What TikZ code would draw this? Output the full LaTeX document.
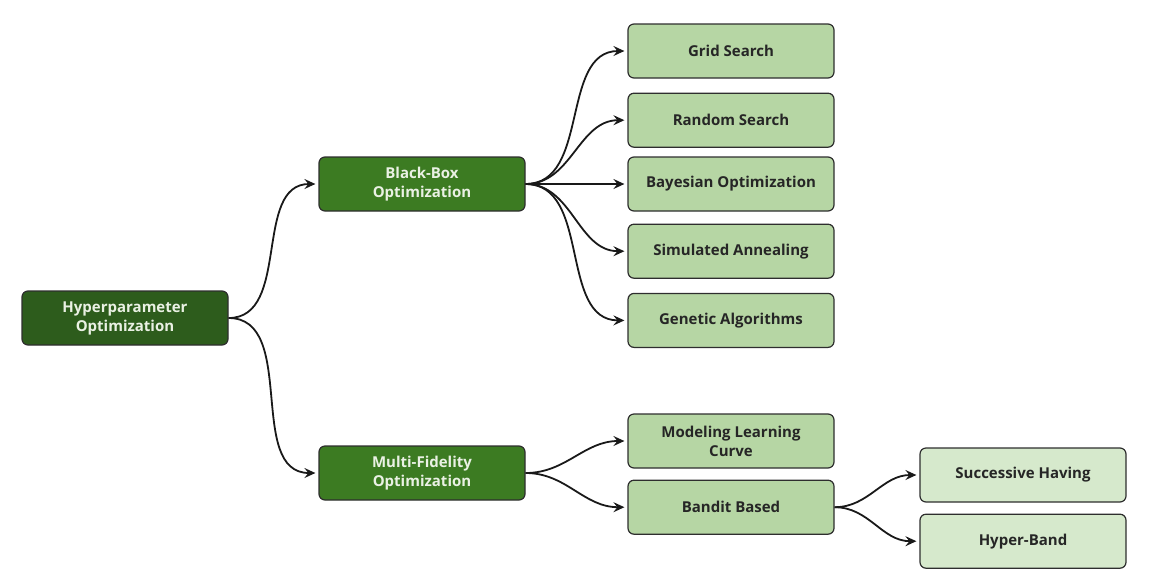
\documentclass[tikz,border=0pt]{standalone}
\usepackage{fontspec}
\setmainfont{Open Sans}
\usepackage{xcolor}
\usetikzlibrary{positioning,arrows.meta}

\definecolor{rootgreen}{HTML}{2D5C1C}
\definecolor{midgreen}{HTML}{3C7B22}
\definecolor{leafgreen}{HTML}{B6D6A4}
\definecolor{subleaf}{HTML}{D6E9CC}
\definecolor{edgegray}{HTML}{2E2E2E}
\definecolor{paletext}{HTML}{EAF1E4}

\begin{document}
\begin{tikzpicture}
		[x=1pt,y=-1pt,
		box/.style={rectangle,rounded corners=6pt,draw=edgegray,line width=1.2pt,minimum width=206pt,minimum height=54pt,inner sep=0pt,align=center,font=\bfseries\fontsize{15}{19}\selectfont},
		root/.style={box,fill=rootgreen,text=paletext},
		method/.style={box,fill=midgreen,text=paletext},
		leaf/.style={box,fill=leafgreen,text=black!85},
		subleaf/.style={box,fill=subleaf,text=black!85},
		branch/.style={-{Stealth[length=11pt,width=10pt,inset=4pt]},line width=1.8pt,black!90,out=0,in=180}]
		\useasboundingbox (0,0) rectangle (1165,574);

		\node [root] (hpo) at (125,318) {Hyperparameter\\Optimization};

		\node [method] (bbo) at (422,184) {Black-Box\\Optimization};
		\node [method] (mfo) at (422,473) {Multi-Fidelity\\Optimization};

		\node [leaf] (grid) at (731,51) {Grid Search};
		\node [leaf] (rand) [below=14pt of grid] {Random Search};
		\node [leaf] (bayes) at (731,184) {Bayesian Optimization};
		\node [leaf] (anneal) [below=12pt of bayes] {Simulated Annealing};
		\node [leaf] (genetic) [below=14pt of anneal] {Genetic Algorithms};

		\node [leaf] (curve) at (731,441) {Modeling Learning\\Curve};
		\node [leaf] (bandit) [below=11pt of curve] {Bandit Based};

		\node [subleaf] (succ) at (1023,475) {Successive Having};
		\node [subleaf] (hband) [below=11pt of succ] {Hyper-Band};

		\draw [branch] (hpo.east) to ([xshift=-3pt]bbo.west);
		\draw [branch] (hpo.east) to ([xshift=-3pt]mfo.west);

		\foreach \leafnode in {grid,rand,bayes,anneal,genetic}
			\draw [branch] (bbo.east) to ([xshift=-3pt]\leafnode.west);

		\draw [branch] (mfo.east) to ([xshift=-3pt]curve.west);
		\draw [branch] (mfo.east) to ([xshift=-3pt]bandit.west);

		\draw [branch] (bandit.east) to ([xshift=-3pt]succ.west);
		\draw [branch] (bandit.east) to ([xshift=-3pt]hband.west);

	\end{tikzpicture}
\end{document}
